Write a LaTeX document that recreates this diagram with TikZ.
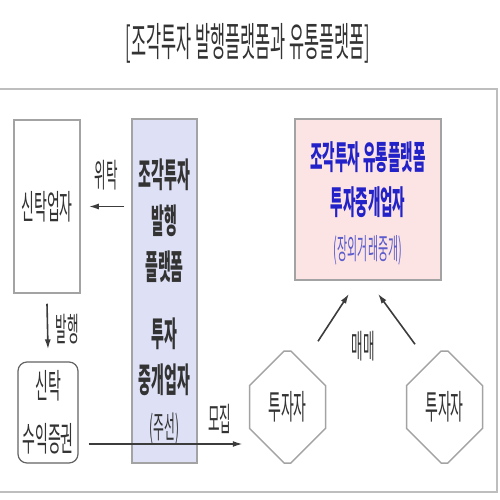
\documentclass[tikz,border=0pt]{standalone}
\usepackage{fontspec}
\newfontfamily\kor[FakeStretch=0.41]{Noto Sans CJK KR}
\newfontfamily\korsmall[FakeStretch=0.38]{Noto Sans CJK KR}
\usetikzlibrary{shapes.geometric, shapes.misc, arrows.meta, positioning}
\definecolor{framegray}{HTML}{A3A3A3}
\definecolor{textgray}{HTML}{333333}
\definecolor{linegray}{HTML}{3C3C3C}
\definecolor{issuefill}{HTML}{DEE1F6}
\definecolor{tradefill}{HTML}{FCE4E4}
\definecolor{tradeblue}{HTML}{2222C8}
\definecolor{notenblue}{HTML}{5C5CCC}
\tikzstyle{plainbox} =
[rectangle, minimum width = 66pt, minimum height = 173pt, inner sep = 0pt,
draw=framegray, line width = 1.5pt, fill=white, text=textgray,
font=\kor\fontsize{34}{40}\selectfont]
\tikzstyle{issuebox} =
[rectangle, minimum width = 65pt, minimum height = 344pt, inner sep = 0pt,
draw=framegray, line width = 1.5pt, fill=issuefill]
\tikzstyle{issuetext} =
[inner sep = 0pt, align=center, text=textgray,
font=\kor\bfseries\fontsize{34}{46}\selectfont]
\tikzstyle{tradebox} =
[rectangle, minimum width = 146pt, minimum height = 161pt, inner sep = 0pt,
draw=framegray, line width = 1.5pt, fill=tradefill]
\tikzstyle{tradetext} =
[inner sep = 0pt, align=center, text=tradeblue,
font=\kor\bfseries\fontsize{33}{45}\selectfont]
\tikzstyle{certbox} =
[rectangle, rounded corners = 9pt, minimum width = 60pt, minimum height = 101pt,
inner sep = 0pt, align=center, draw=linegray!80, line width = 1.2pt, fill=white,
text=textgray, font=\kor\fontsize{34}{53}\selectfont]
\tikzstyle{investor} =
[chamfered rectangle, chamfered rectangle xsep = 17pt, chamfered rectangle ysep = 32pt,
minimum width = 76pt, minimum height = 112pt, inner sep = 0pt,
draw=framegray, line width = 1.5pt, fill=white, text=textgray,
font=\kor\fontsize{34}{40}\selectfont]
\tikzstyle{flowlabel} =
[inner sep = 0pt, text=textgray, font=\korsmall\fontsize{33}{38}\selectfont]
\tikzstyle{line} = [draw=linegray, line width = 1.6pt, -{Latex[length=10pt, width=6pt]}]
\begin{document}
\begin{tikzpicture}[x=1pt, y=-1pt]
  \useasboundingbox (0,0) rectangle (500,500);
  % title and frame
  \node [text=textgray, font=\kor\fontsize{40}{46}\selectfont] (title) at (248,43)
   {[조각투자 발행플랫폼과 유통플랫폼]};
  \draw [framegray!70, line width = 2pt] (-2,89) rectangle (497,492);
  % 1st level nodes
  \node [plainbox] (trustee) at (47,206.5) {신탁업자};
  \node [issuebox] (issue) at (164.5,291) {};
  \node [issuetext] (issuelabel) at (164.5,302)
   {조각투자\\발행\\플랫폼\\[21pt]투자\\중개업자\\{\mdseries\korsmall\fontsize{31}{43}\selectfont (주선)}};
  \node [certbox] (cert) at (48,412.5) {신탁\\수익증권};
  \node [tradebox] (trade) at (368,199.5) {};
  \node [tradetext] (tradelabel) at (368,203)
   {조각투자 유통플랫폼\\투자중개업자\\{\mdseries\korsmall\color{notenblue}\fontsize{29}{40}\selectfont (장외거래중개)}};
  \node [investor] (buyer) at (287.5,407) {투자자};
  \node [investor] (seller) at (444.5,407) {투자자};
  % edges
  \path [line] ([xshift=-7pt]issue.west |- trustee) -- ([xshift=8pt]trustee.east)
   node [flowlabel, midway, yshift=31pt] (entrust) {위탁};
  \path [line] ([yshift=-10pt]trustee.south) -- ([yshift=12pt]cert.north)
   node [flowlabel, midway, xshift=20pt, yshift=-3pt] (issuing) {발행};
  \path [line] ([xshift=10pt, yshift=-31.5pt]cert.east) -- ([xshift=-6pt, yshift=-37pt]buyer.west)
   node [flowlabel, pos=0.85, yshift=25pt] (raising) {모집};
  \path [line] ([xshift=30.5pt, yshift=9pt]buyer.north) -- ([xshift=-19pt, yshift=-13pt]trade.south);
  \path [line] ([xshift=-29.5pt, yshift=6pt]seller.north) -- ([xshift=10pt, yshift=-13pt]trade.south);
  \node [flowlabel] (dealing) at (363,346) {매매};
\end{tikzpicture}
\end{document}
